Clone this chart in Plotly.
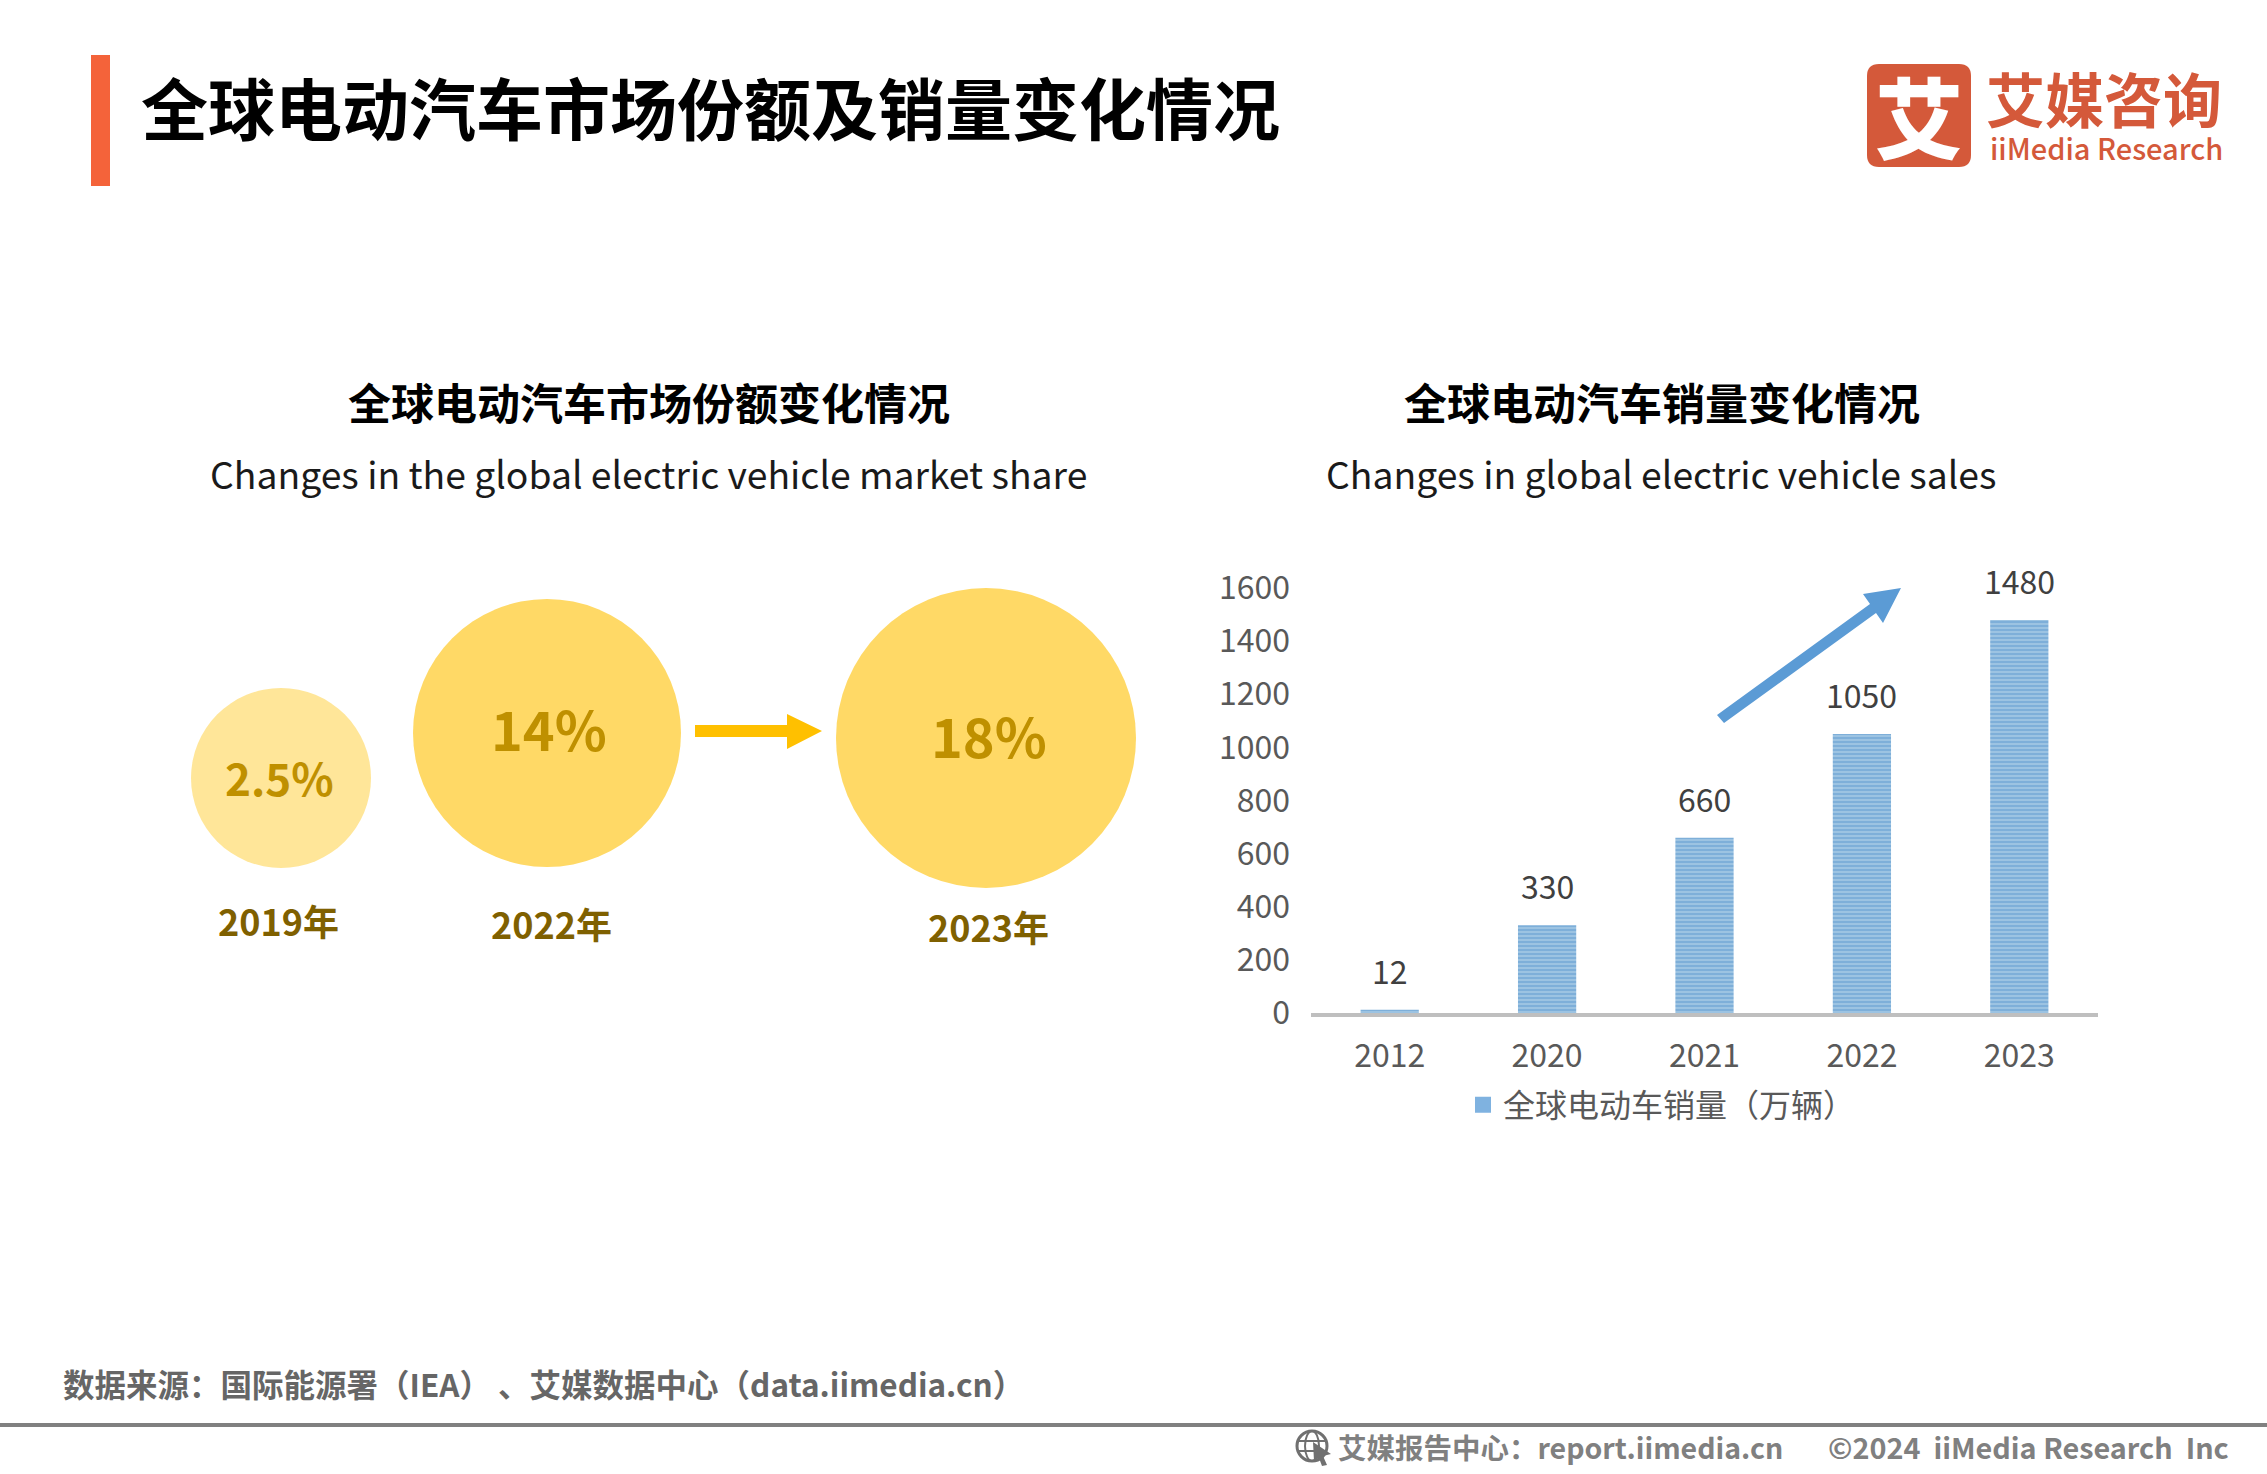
import plotly.graph_objects as go

W, H = 2267, 1474
FONT = 'Noto Sans CJK SC'

# bar chart data
sales_years = ['2012', '2020', '2021', '2022', '2023']
sales_values = [12, 330, 660, 1050, 1480]
sales_ticks = [0, 200, 400, 600, 800, 1000, 1200, 1400, 1600]

# circles data
share_years = ['2019年', '2022年', '2023年']
share_values = ['2.5%', '14%', '18%']

# circle placement on the page, in pixels
circle_x = [281, 547, 986]
circle_y = [778, 733, 738]
circle_d = [180, 268, 300]
circle_col = ['#FFE699', '#FFD966', '#FFD966']
share_val_y = [777, 727, 734]
share_val_x = [279, 549, 989]
share_val_size = [44, 54, 54]
share_year_x = [278, 551, 988]
share_year_y = [920, 923, 926]

fig = go.Figure()

fig.add_trace(go.Bar(
    x=sales_years, y=sales_values, width=0.37, showlegend=False,
    marker=dict(color='#9CC3E2', line_width=0,
                pattern=dict(shape='-', size=4, solidity=0.5, fgcolor='#5F9BCF', bgcolor='#9CC3E2')),
))
# legend entry, bar legend swatches are too small
fig.add_trace(go.Scatter(
    x=[None], y=[None], name='全球电动车销量（万辆）', mode='markers',
    marker=dict(symbol='square', size=16, color='#7FB2E0'),
))
fig.add_trace(go.Scatter(
    x=circle_x, y=circle_y, xaxis='x2', yaxis='y2', mode='markers', showlegend=False,
    marker=dict(size=circle_d, color=circle_col, line_width=0, opacity=1), hoverinfo='skip',
))

fig.update_layout(
    width=W, height=H, margin=dict(l=0, r=0, t=0, b=0),
    paper_bgcolor='white', plot_bgcolor='rgba(0,0,0,0)',
    font=dict(family=FONT, color='#595959'),
    xaxis=dict(domain=[1311 / W, 2098 / W], type='category', categoryorder='array', categoryarray=sales_years,
               range=[-0.5, 4.5], showgrid=False, zeroline=False, automargin=False,
               showline=True, linecolor='#BFBFBF', linewidth=4, ticks='', ticklabelstandoff=12,
               tickfont=dict(size=32, color='#595959')),
    yaxis=dict(domain=[1 - 1013 / H, 1 - 588 / H], range=[0, 1600], tickvals=sales_ticks, showgrid=False,
               zeroline=False, showline=False, ticks='', ticklabelstandoff=20, automargin=False,
               tickfont=dict(size=32, color='#595959')),
    xaxis2=dict(domain=[0, 1], range=[0, W], visible=False, anchor='y2', automargin=False),
    yaxis2=dict(domain=[0, 1], range=[H, 0], visible=False, anchor='x2', automargin=False),
    legend=dict(x=1463 / W, y=1 - 1105 / H, xanchor='left', yanchor='middle', orientation='h',
                font=dict(size=32, color='#595959'), bgcolor='rgba(0,0,0,0)', itemsizing='trace'),
)


def page_text(text, x, y, size, color, weight=400, anchor='center'):
    fig.add_annotation(text=text, x=x, y=y, xref='x2', yref='y2', showarrow=False, xanchor=anchor,
                       yanchor='middle', font=dict(family=FONT, size=size, color=color, weight=weight))


# bar value labels, x is the category position
for i, v in enumerate(sales_values):
    fig.add_annotation(text=str(v), x=i, y=v, xref='x', yref='y', showarrow=False, yanchor='bottom',
                       yshift=15, font=dict(family=FONT, size=32, color='#404040'))

# titles
page_text('全球电动汽车市场份额及销量变化情况', 139, 105, 67, '#000000', 700, 'left')
page_text('全球电动汽车市场份额变化情况', 649, 401, 43, '#000000', 700)
page_text('Changes in the global electric vehicle market share', 648, 473, 37.3, '#1A1A1A')
page_text('全球电动汽车销量变化情况', 1662, 401, 43, '#000000', 700)
page_text('Changes in global electric vehicle sales', 1661, 473, 37.3, '#1A1A1A')

# circle labels
for i in range(3):
    page_text(share_values[i], share_val_x[i], share_val_y[i], share_val_size[i], '#BF9000', 700)
    page_text(share_years[i], share_year_x[i], share_year_y[i], 36, '#7F6000', 700)

# logo
page_text('艾', 1919, 113, 88, 'white', 900)
page_text('艾媒咨询', 1984, 97, 59, '#D4593A', 700, 'left')
page_text('iiMedia Research', 1988, 147, 29, '#D4593A', 500, 'left')

# footer
page_text('数据来源：国际能源署（IEA） 、艾媒数据中心（data.iimedia.cn）', 61, 1383, 31.5, '#666666', 700, 'left')
page_text('艾媒报告中心：report.iimedia.cn', 1336, 1446, 28.5, '#808080', 700, 'left')
page_text('©2024  iiMedia Research  Inc', 1826, 1446, 28.8, '#808080', 700, 'left')


def page_shape(**kw):
    fig.add_shape(xref='x2', yref='y2', layer='above', **kw)


def polygon(points, color):
    path = 'M' + ' L'.join(f'{px},{py}' for px, py in points) + ' Z'
    page_shape(type='path', path=path, fillcolor=color, line_width=0)


# accent bar, logo square, footer rule
page_shape(type='rect', x0=91, x1=110, y0=55, y1=186, fillcolor='#F4633A', line_width=0)
page_shape(type='path', line_width=0, fillcolor='#D4593A',
           path='M1879,64 L1959,64 Q1971,64 1971,76 L1971,155 Q1971,167 1959,167 L1879,167 '
                'Q1867,167 1867,155 L1867,76 Q1867,64 1879,64 Z')
page_shape(type='rect', x0=0, x1=W, y0=1423, y1=1427, fillcolor='#808080', line_width=0)

# arrows
polygon([(695, 725), (787, 725), (787, 714), (822, 731), (787, 749), (787, 737), (695, 737)], '#FFC000')
polygon([(1717, 715), (1870, 604), (1863, 594), (1901, 588), (1883, 623), (1876, 613), (1724, 723)], '#5B9BD5')

# globe icon in the footer
page_shape(type='circle', x0=1297, x1=1327, y0=1431, y1=1461, line=dict(color='#707070', width=3))
page_shape(type='circle', x0=1305, x1=1319, y0=1431, y1=1461, line=dict(color='#707070', width=2))
page_shape(type='line', x0=1297, x1=1327, y0=1441, y1=1441, line=dict(color='#707070', width=2))
page_shape(type='line', x0=1297, x1=1327, y0=1451, y1=1451, line=dict(color='#707070', width=2))
polygon([(1313, 1442), (1331, 1454), (1323, 1456), (1327, 1465), (1322, 1466), (1319, 1458), (1314, 1461)], '#707070')

fig.write_html('out.html', config={'displayModeBar': False}, post_script="document.body.style.margin='0';")
